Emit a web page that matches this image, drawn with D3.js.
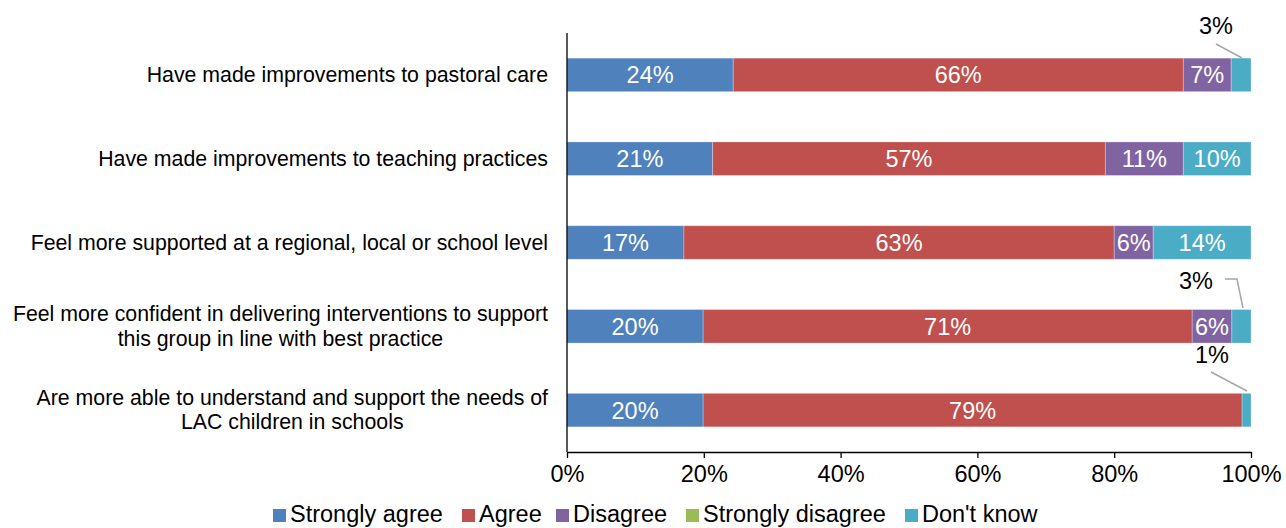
<!DOCTYPE html>
<html><head><meta charset="utf-8">
<script src="https://cdn.jsdelivr.net/npm/d3@7"></script>
<style>body{margin:0;background:#fff;} text{font-family:"Liberation Sans",Arial,sans-serif;}</style>
</head><body><svg id="c" width="1286" height="528"></svg>
<script>
const categories = [
  ["Have made improvements to pastoral care"],
  ["Have made improvements to teaching practices"],
  ["Feel more supported at a regional, local or school level"],
  ["Feel more confident in delivering interventions to support","this group in line with best practice"],
  ["Are more able to understand and support the needs of","LAC children in schools"]
];
const seriesNames = ["Strongly agree","Agree","Disagree","Strongly disagree","Don't know"];
const colors = ["#4F81BD","#C0504D","#8064A2","#9BBB59","#4BACC6"];
const stronglyAgree = [24.3, 21.3, 17.1, 19.9, 19.9];
const agree = [65.8, 57.4, 62.9, 71.5, 78.8];
const disagree = [7.0, 11.4, 5.7, 5.8, 0];
const stronglyDisagree = [0, 0, 0, 0, 0];
const dontKnow = [2.9, 9.9, 14.3, 2.8, 1.3];
const labelsSA = ["24%","21%","17%","20%","20%"];
const labelsA = ["66%","57%","63%","71%","79%"];
const labelsD = ["7%","11%","6%","6%",""];
const labelsDK = ["3%","10%","14%","3%","1%"];
const xTicks = [0,20,40,60,80,100];

const svg = d3.select("#c");
const x = d3.scaleLinear().domain([0,100]).range([567,1251]);
const y = d3.scaleBand().domain(d3.range(5)).range([33,452]).paddingInner(0.6).paddingOuter(0.3);

const series = [stronglyAgree, agree, disagree, stronglyDisagree, dontKnow];
const labels = [labelsSA, labelsA, labelsD, null, labelsDK];

const rows = categories.map((c,i)=>{
  let acc=0; return series.map((s,k)=>{const o={k,i,x0:acc,x1:acc+s[i]}; acc+=s[i]; return o;});
});

const g = svg.append("g");
rows.forEach(r=>r.forEach(d=>{
  if(d.x1-d.x0<=0) return;
  g.append("rect").attr("x",x(d.x0)).attr("width",x(d.x1)-x(d.x0))
   .attr("y",y(d.i)).attr("height",y.bandwidth()).attr("fill",colors[d.k])
   .attr("stroke","#ffffff").attr("stroke-opacity",0.35).attr("stroke-width",0.8);
  const lab = labels[d.k] ? labels[d.k][d.i] : "";
  const inside = !(d.k===4 && (d.x1-d.x0)<5);
  if(lab && inside){
    g.append("text").attr("x",(x(d.x0)+x(d.x1))/2).attr("y",y(d.i)+y.bandwidth()/2+8.5)
     .attr("text-anchor","middle").attr("fill","#fff").attr("font-size",23.5).text(lab);
  }
}));

// outside labels with leader lines for small Don't know
const outside = [
  {i:0, tx:1216, ty:34, path:[[1216,44],[1242,58]]},
  {i:3, tx:1196, ty:289, path:[[1225,279],[1237,279],[1243,308]]},
  {i:4, tx:1212, ty:363, path:[[1211,372],[1247,391]]}
];
outside.forEach(o=>{
  svg.append("text").attr("x",o.tx).attr("y",o.ty).attr("text-anchor","middle")
    .attr("font-size",23.5).attr("fill","#000").text(labelsDK[o.i]);
  svg.append("path").attr("d",d3.line()(o.path)).attr("fill","none")
    .attr("stroke","#A6A6A6").attr("stroke-width",1.5);
});

// axes
const xAxis = d3.axisBottom(x).tickValues(xTicks).tickFormat(d=>d+"%").tickSize(6).tickSizeOuter(0);
const ax = svg.append("g").attr("transform","translate(0,452)").call(xAxis);
ax.select(".domain").attr("stroke","#000").attr("stroke-width",1.3);
ax.selectAll(".tick line").attr("stroke","#000").attr("stroke-width",1.3);
ax.selectAll(".tick text").attr("font-size",23.5).attr("fill","#000").attr("y",30).attr("dy",0)
  .style("font-family","'Liberation Sans',Arial,sans-serif");
svg.append("line").attr("x1",567).attr("x2",567).attr("y1",33).attr("y2",452)
  .attr("stroke","#000").attr("stroke-width",1.3);

// category labels (block right-aligned, lines centred within block)
categories.forEach((lines,i)=>{
  const cy = y(i)+y.bandwidth()/2;
  const lh = 24.5;
  const t = svg.append("text").attr("text-anchor","middle").attr("font-size",21.3).attr("fill","#000");
  const spans = lines.map((ln,j)=>t.append("tspan").attr("y",cy + 7 + (j-(lines.length-1)/2)*lh).text(ln));
  const w = d3.max(spans, s=>s.node().getComputedTextLength());
  spans.forEach(s=>s.attr("x",548 - w/2));
});

// legend
const legX = [273,462,556,686,905];
seriesNames.forEach((n,k)=>{
  svg.append("rect").attr("x",legX[k]).attr("y",509).attr("width",13).attr("height",13).attr("fill",colors[k]);
  svg.append("text").attr("x",legX[k]+17).attr("y",522).attr("font-size",23.5).attr("fill","#000").text(n);
});
</script></body></html>
